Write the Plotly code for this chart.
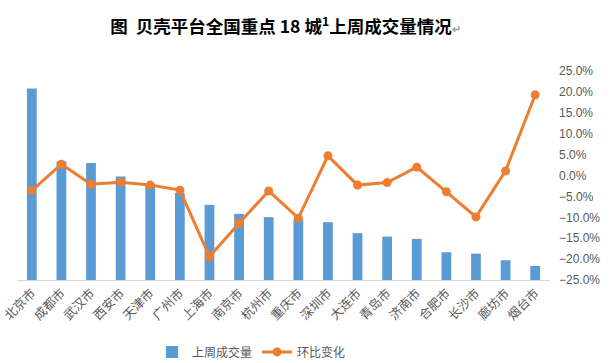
import plotly.graph_objects as go

cities = ["北京市", "成都市", "武汉市", "西安市", "天津市", "广州市", "上海市", "南京市", "杭州市",
          "重庆市", "深圳市", "大连市", "青岛市", "济南市", "合肥市", "长沙市", "廊坊市", "烟台市"]
volume = [1910, 1183, 1167, 1033, 950, 867, 750, 660, 627,
          607, 577, 467, 433, 410, 277, 263, 197, 140]
change = [-3.6, 2.7, -2.1, -1.6, -2.3, -3.5, -19.4, -11.4, -3.7,
          -10.2, 4.7, -2.3, -1.7, 2.0, -3.9, -9.9, 1.1, 19.3]
change_frac = [v / 100 for v in change]

font_cjk = "Noto Sans CJK SC"

fig = go.Figure()
fig.add_trace(go.Bar(
    x=cities, y=volume, name="上周成交量",
    marker=dict(color="#5B9BD5", line=dict(width=0)),
    width=0.33, yaxis="y",
))
fig.add_trace(go.Scatter(
    x=cities, y=change_frac, name="环比变化", mode="lines+markers",
    line=dict(color="#ED7D31", width=3),
    marker=dict(color="#ED7D31", size=9),
    yaxis="y2",
))

fig.update_layout(
    width=614, height=363,
    margin=dict(l=17, r=64, t=71, b=83, autoexpand=False),
    paper_bgcolor="white", plot_bgcolor="white",
    title=dict(
        text="图  贝壳平台全国重点 18 城<sup>1</sup>上周成交量情况<span style='color:#A0A0A0;font-size:11px'>↵</span>",
        x=0.465, xanchor="center", y=1 - 27 / 363, yanchor="middle",
        font=dict(family=font_cjk, size=17.5, color="black", weight="bold"),
    ),
    font=dict(family=font_cjk, color="#595959", size=12),
    showlegend=True,
    legend=dict(
        orientation="h", x=0.44, xanchor="center", y=-0.344, yanchor="middle",
        font=dict(family=font_cjk, size=12, color="#595959"),
        itemwidth=30,
    ),
    xaxis=dict(
        range=[-0.5, 17.5],
        tickangle=-45, showgrid=False, showline=True, linecolor="#D9D9D9", linewidth=1,
        ticks="", automargin=False,
        tickfont=dict(family=font_cjk, size=12.5, color="#595959"),
    ),
    yaxis=dict(
        range=[0, 2085], visible=False, showgrid=False, automargin=False,
    ),
    yaxis2=dict(
        overlaying="y", side="right", range=[-0.25, 0.25], dtick=0.05,
        tickformat=".1%", showgrid=False, zeroline=False, showline=False,
        ticks="", ticklabelstandoff=8, automargin=False,
        tickfont=dict(family="Liberation Sans", size=12, color="#595959"),
    ),
)

fig.write_html("out.html", config={"displayModeBar": False},
               post_script="document.body.style.margin='0';")
